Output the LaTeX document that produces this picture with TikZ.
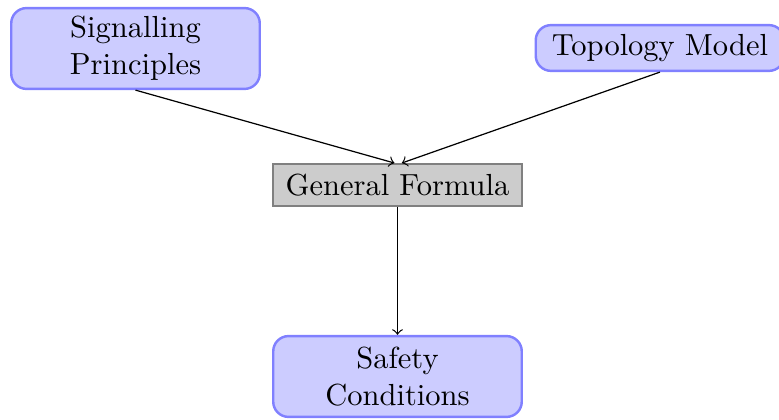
\documentclass[tikz,border=0pt]{standalone}
\usetikzlibrary{arrows}
\begin{document}
\begin{tikzpicture}[
    x=0.3279pt, y=-0.3279pt,
    source/.style={draw=blue!50, fill=blue!20, thick, rounded corners=5pt,
      align=center, minimum width=81.5pt, inner sep=2pt},
    formula/.style={draw=gray, fill=gray!40, thick,
      minimum width=81.5pt, minimum height=13.6pt, inner sep=2pt},
    flow/.style={->, thin}
  ]
  \useasboundingbox (0,0) rectangle (779,420);

  \node[source, minimum height=26.5pt] (sig) at (135.5,48.5) {Signalling\\Principles};
  \node[source, minimum height=15pt]   (topo) at (660,48) {Topology Model};
  \node[formula] (gen) at (397.5,185) {General Formula};
  \node[source, minimum height=26.5pt] (safe) at (397.5,376.5) {Safety\\Conditions};

  % the two inputs meet just either side of the formula's top centre
  \coordinate (genin1) at ([xshift=-1pt]gen.north);
  \coordinate (genin2) at ([xshift=1.4pt]gen.north);

  \draw[flow] (sig.south) -- (genin1);
  \draw[flow] (topo.south) -- (genin2);
  \draw[flow] (gen.south) -- (safe.north);
\end{tikzpicture}
\end{document}
